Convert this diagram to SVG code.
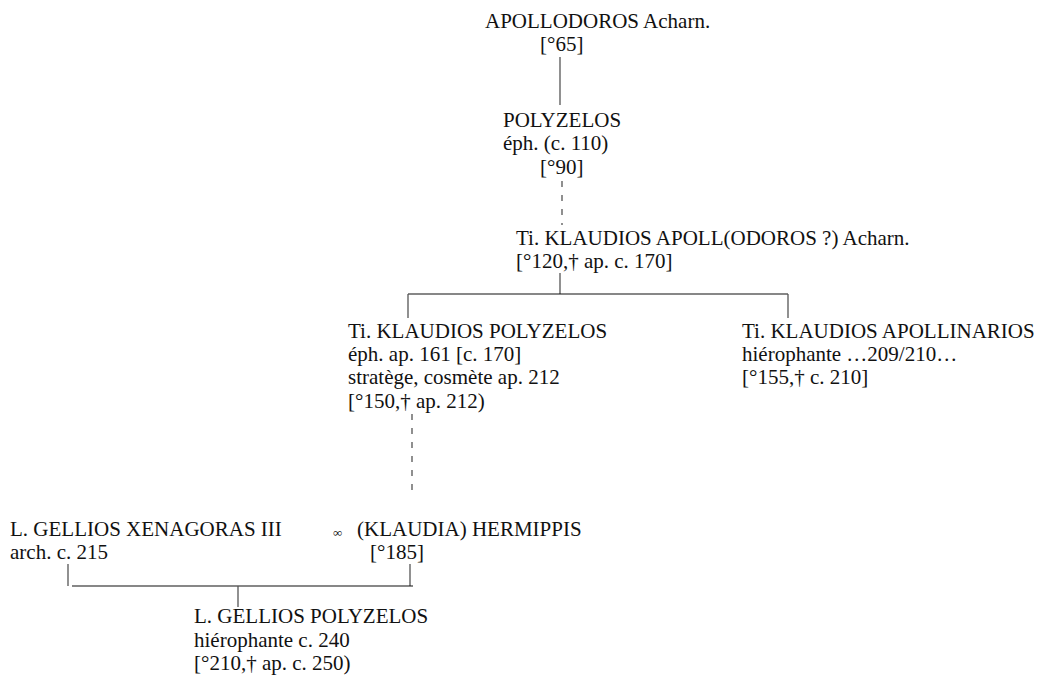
<svg xmlns="http://www.w3.org/2000/svg" width="1044" height="675" viewBox="0 0 1044 675">
<style>
text{font-family:"Liberation Serif","Times New Roman",Times,"DejaVu Serif",serif;font-size:21px;fill:#111}
.h{stroke:#111;stroke-width:1.2;fill:none}
.v{stroke:#555;stroke-width:1.3;fill:none}
.d{stroke:#555;stroke-width:1.3;fill:none;stroke-dasharray:6 8}
.inf{font-size:13px}
</style>
<rect width="1044" height="675" fill="#fff"/>
<g id="connectors">
<line class="v" x1="560" y1="57" x2="560" y2="105"/>
<line class="d" x1="562" y1="181" x2="562" y2="225"/>
<line class="v" x1="560" y1="273" x2="560" y2="294"/>
<line class="h" x1="408" y1="294" x2="788" y2="294"/>
<line class="v" x1="408" y1="294" x2="408" y2="318"/>
<line class="v" x1="788" y1="294" x2="788" y2="318"/>
<line class="d" x1="412" y1="414" x2="412" y2="493"/>
<line class="v" x1="68" y1="564" x2="68" y2="586"/>
<line class="v" x1="410" y1="564" x2="410" y2="586"/>
<line class="h" x1="72" y1="586" x2="413" y2="586"/>
<line class="v" x1="238" y1="586" x2="238" y2="607"/>
</g>
<g id="apollodoros" font-family="Liberation Serif, serif">
<text x="485" y="28">APOLLODOROS Acharn.</text>
<text x="540" y="51">[°65]</text>
</g>
<g id="polyzelos" font-family="Liberation Serif, serif">
<text x="503" y="127">POLYZELOS</text>
<text x="503" y="150">éph. (c. 110)</text>
<text x="540" y="174">[°90]</text>
</g>
<g id="klaudios-apoll" font-family="Liberation Serif, serif">
<text x="516" y="245">Ti. KLAUDIOS APOLL(ODOROS ?) Acharn.</text>
<text x="516" y="268">[°120,† ap. c. 170]</text>
</g>
<g id="klaudios-polyzelos" font-family="Liberation Serif, serif">
<text x="348" y="338">Ti. KLAUDIOS POLYZELOS</text>
<text x="348" y="361">éph. ap. 161 [c. 170]</text>
<text x="348" y="384">stratège, cosmète ap. 212</text>
<text x="348" y="408">[°150,† ap. 212)</text>
</g>
<g id="klaudios-apollinarios" font-family="Liberation Serif, serif">
<text x="742" y="338">Ti. KLAUDIOS APOLLINARIOS</text>
<text x="742" y="361">hiérophante …209/210…</text>
<text x="742" y="384">[°155,† c. 210]</text>
</g>
<g id="gellios-xenagoras" font-family="Liberation Serif, serif">
<text x="10" y="536">L. GELLIOS XENAGORAS III</text>
<text x="10" y="559">arch. c. 215</text>
</g>
<g id="marriage" font-family="Liberation Serif, serif">
<text class="inf" x="333" y="537">∞</text>
</g>
<g id="hermippis" font-family="Liberation Serif, serif">
<text x="357" y="536">(KLAUDIA) HERMIPPIS</text>
<text x="370" y="559">[°185]</text>
</g>
<g id="gellios-polyzelos" font-family="Liberation Serif, serif">
<text x="194" y="623">L. GELLIOS POLYZELOS</text>
<text x="194" y="647">hiérophante c. 240</text>
<text x="194" y="670">[°210,† ap. c. 250)</text>
</g>
</svg>
